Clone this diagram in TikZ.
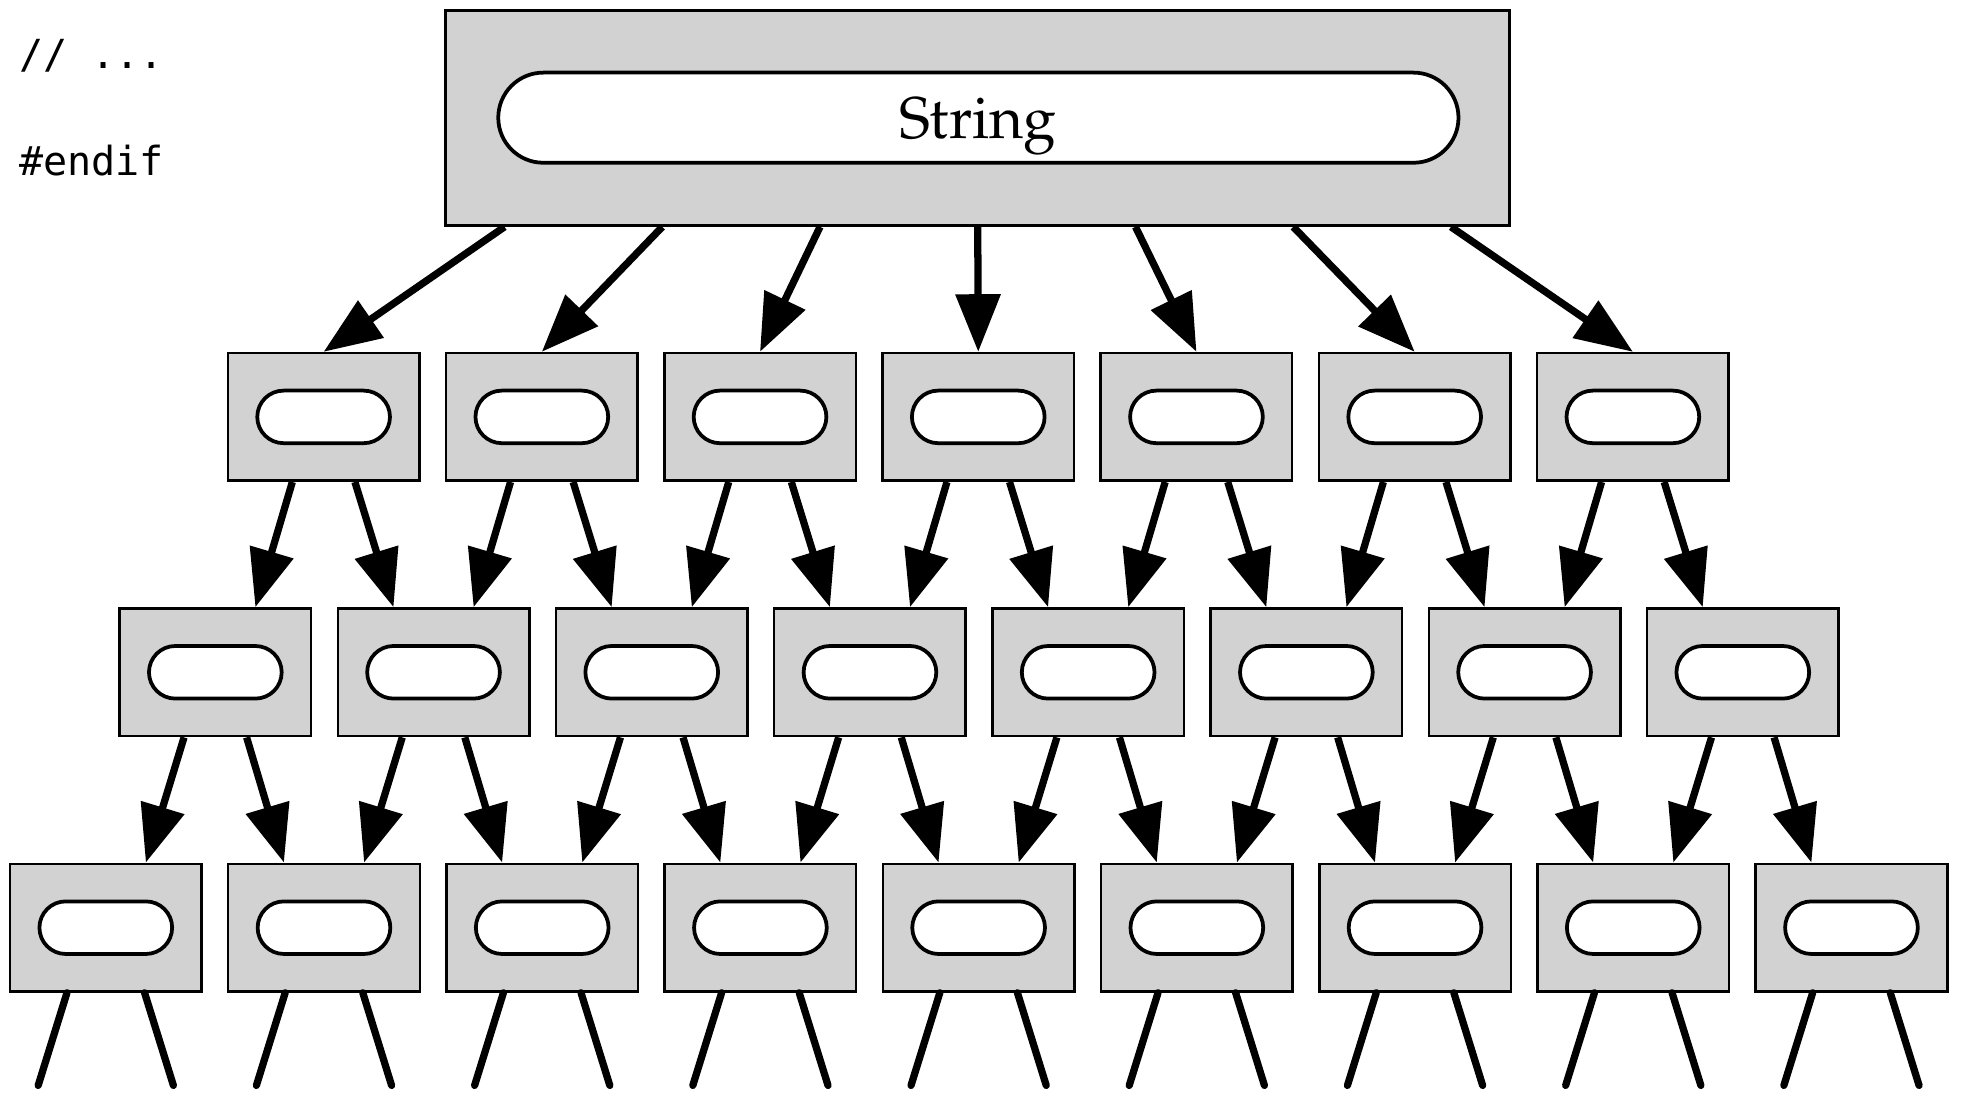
\documentclass[tikz,border=0pt]{standalone}
\usepackage[T1,TU]{fontenc}
\usepackage{fontspec}
\newfontfamily\codefont{DejaVu Sans Mono}
\usetikzlibrary{arrows.meta,shapes.misc}
\definecolor{stip}{RGB}{210,210,210}
\tikzset{
  box/.style={draw=black, line width=1pt, fill=stip, rectangle, minimum width=76.5pt, minimum height=51pt, inner sep=0pt},
  pill/.style={draw=black, line width=1.5pt, fill=white, rounded rectangle, minimum width=53pt, minimum height=21pt, inner sep=0pt},
  arr/.style={line width=2.9pt, -{Triangle[length=23pt,width=17.5pt]}},
  stubline/.style={line width=2.9pt, line cap=round},
  code/.style={anchor=base west, inner sep=0pt, font=\codefont\fontsize{16pt}{19pt}\selectfont}
}
\begin{document}
\begin{tikzpicture}[x=0.5pt,y=-0.5pt]
\useasboundingbox (0,0) rectangle (1568,874);
% code text
\node[code] (c1) at (15,54.5) {// ...};
\node[code] (c2) at (15,140) {\#endif};
% top box
\node[box, minimum width=425pt, minimum height=86pt, line width=1.2pt] (top) at (781,94) {};
\node[pill, minimum width=383.5pt, minimum height=36pt] (topp) at (781.5,94) {};
\node[anchor=base, inner sep=0pt] (label) at (781,111) {\fontencoding{T1}\fontfamily{ppl}\fontsize{23.5pt}{28pt}\selectfont String};
% rows
\foreach \i in {1,...,7} {
  \node[box] (r1-\i) at ({258.5+174.3*(\i-1)},333) {};
  \node[pill] (p1-\i) at (r1-\i) {};
}
\foreach \i in {1,...,8} {
  \node[box] (r2-\i) at ({172+174.3*(\i-1)},537) {};
  \node[pill] (p2-\i) at (r2-\i) {};
}
\foreach \i in {1,...,9} {
  \node[box] (r3-\i) at ({84.5+174.3*(\i-1)},741) {};
  \node[pill] (p3-\i) at (r3-\i) {};
  \coordinate (s\i a) at ({84.5+174.3*(\i-1)-54},867);
  \coordinate (s\i b) at ({84.5+174.3*(\i-1)+54},867);
}
% arrows top -> row1
\foreach \i in {1,...,7} {
  \draw[arr] ([xshift={(\i-4)*63pt}]top.south) -- (r1-\i.north);
}
% row1 -> row2
\foreach \i [evaluate=\i as \j using int(\i+1)] in {1,...,7} {
  \draw[arr] ([xshift=-12.5pt]r1-\i.south) -- ([xshift=16pt]r2-\i.north);
  \draw[arr] ([xshift=12.5pt]r1-\i.south) -- ([xshift=-16pt]r2-\j.north);
}
% row2 -> row3
\foreach \i [evaluate=\i as \j using int(\i+1)] in {1,...,8} {
  \draw[arr] ([xshift=-12.5pt]r2-\i.south) -- ([xshift=16pt]r3-\i.north);
  \draw[arr] ([xshift=12.5pt]r2-\i.south) -- ([xshift=-16pt]r3-\j.north);
}
% stubs
\foreach \i in {1,...,9} {
  \draw[stubline] ([xshift=-15.5pt]r3-\i.south) -- (s\i a);
  \draw[stubline] ([xshift=15.5pt]r3-\i.south) -- (s\i b);
}
\end{tikzpicture}
\end{document}
